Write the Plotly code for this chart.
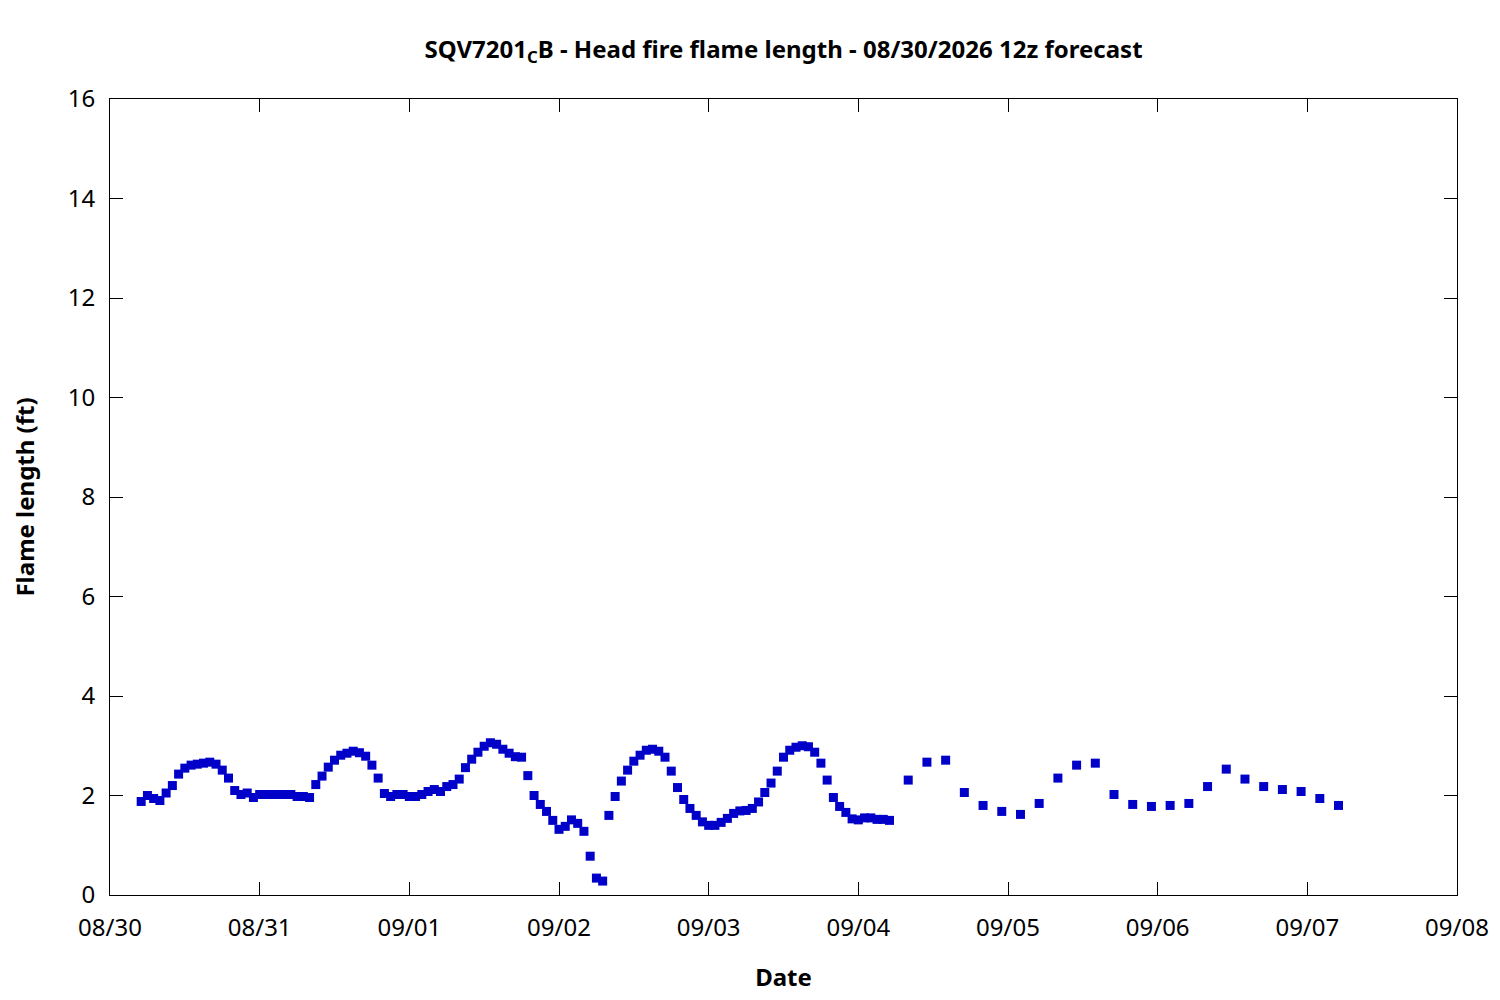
import plotly.graph_objects as go
import pandas as pd

# hourly forecast part (08/30 05h -> 09/04 05h)
hourly_start = "2026-08-30 05:00"
hourly_flame = [
    1.88, 2.00, 1.94, 1.90, 2.05, 2.20, 2.43, 2.55, 2.61, 2.63, 2.65, 2.67,
    2.63, 2.51, 2.35, 2.10, 2.02, 2.05, 1.96, 2.02, 2.02, 2.02, 2.02, 2.02,
    2.02, 1.98, 1.98, 1.96, 2.22, 2.39, 2.57, 2.71, 2.81, 2.85, 2.89, 2.86,
    2.79, 2.61, 2.35, 2.04, 1.98, 2.02, 2.02, 1.98, 1.98, 2.02, 2.08, 2.12,
    2.08, 2.18, 2.22, 2.33, 2.56, 2.73, 2.87, 2.99, 3.06, 3.03, 2.93, 2.85,
    2.78, 2.77, 2.40, 2.00, 1.82, 1.68, 1.50, 1.32, 1.38, 1.51, 1.44, 1.28,
    0.78, 0.34, 0.28, 1.60, 1.98, 2.29, 2.51, 2.69, 2.81, 2.91, 2.93, 2.89,
    2.77, 2.49, 2.16, 1.92, 1.74, 1.60, 1.47, 1.40, 1.40, 1.46, 1.54, 1.64,
    1.69, 1.70, 1.74, 1.87, 2.06, 2.25, 2.49, 2.77, 2.91, 2.97, 3.00, 2.98,
    2.87, 2.65, 2.31, 1.96, 1.78, 1.66, 1.53, 1.51, 1.55, 1.55, 1.52, 1.52,
    1.50,
]

# 3-hourly part (09/04 08h -> 09/07 05h)
three_hourly_start = "2026-09-04 08:00"
three_hourly_flame = [
    2.31, 2.67, 2.71, 2.06, 1.80, 1.68, 1.62, 1.84, 2.35, 2.61, 2.65, 2.02,
    1.82, 1.78, 1.80, 1.84, 2.18, 2.53, 2.33, 2.18, 2.12, 2.08, 1.94, 1.80,
]

times = list(pd.date_range(hourly_start, periods=len(hourly_flame), freq="h")) + \
    list(pd.date_range(three_hourly_start, periods=len(three_hourly_flame), freq="3h"))
flame = hourly_flame + three_hourly_flame

FONT = "Noto Sans"

fig = go.Figure()
fig.add_trace(go.Scatter(
    x=times, y=flame, mode="markers",
    marker=dict(symbol="square", size=9, color="#0000c8", line=dict(width=0)),
    showlegend=False,
))

axis_common = dict(
    showline=True, linecolor="black", linewidth=1, mirror="ticks",
    ticks="inside", ticklen=13, tickcolor="black", tickwidth=1,
    showgrid=False, zeroline=False,
    tickfont=dict(family=FONT, size=24, color="black"),
)

fig.update_layout(
    width=1500, height=1000,
    margin=dict(l=102, r=51, t=91, b=113),
    paper_bgcolor="white", plot_bgcolor="white",
    title=dict(
        text="<b>SQV7201<sub>C</sub>B - Head fire flame length - 08/30/2026 12z forecast</b>",
        xref="paper", x=0.5, xanchor="center", y=0.958, yanchor="middle",
        font=dict(family=FONT, size=24, color="black"),
    ),
    xaxis=dict(
        axis_common,
        type="date", range=["2026-08-30", "2026-09-08"],
        dtick=86400000, tick0="2026-08-30", tickformat="%m/%d",
        title=dict(text="<b>Date</b>", font=dict(family=FONT, size=24, color="black"), standoff=27),
        ticklabelstandoff=11,
    ),
    yaxis=dict(
        axis_common,
        range=[0, 16], dtick=2,
        title=dict(text="<b>Flame length (ft)</b>", font=dict(family=FONT, size=24, color="black"), standoff=26),
        ticklabelstandoff=9,
    ),
)

fig.write_html("out.html")
